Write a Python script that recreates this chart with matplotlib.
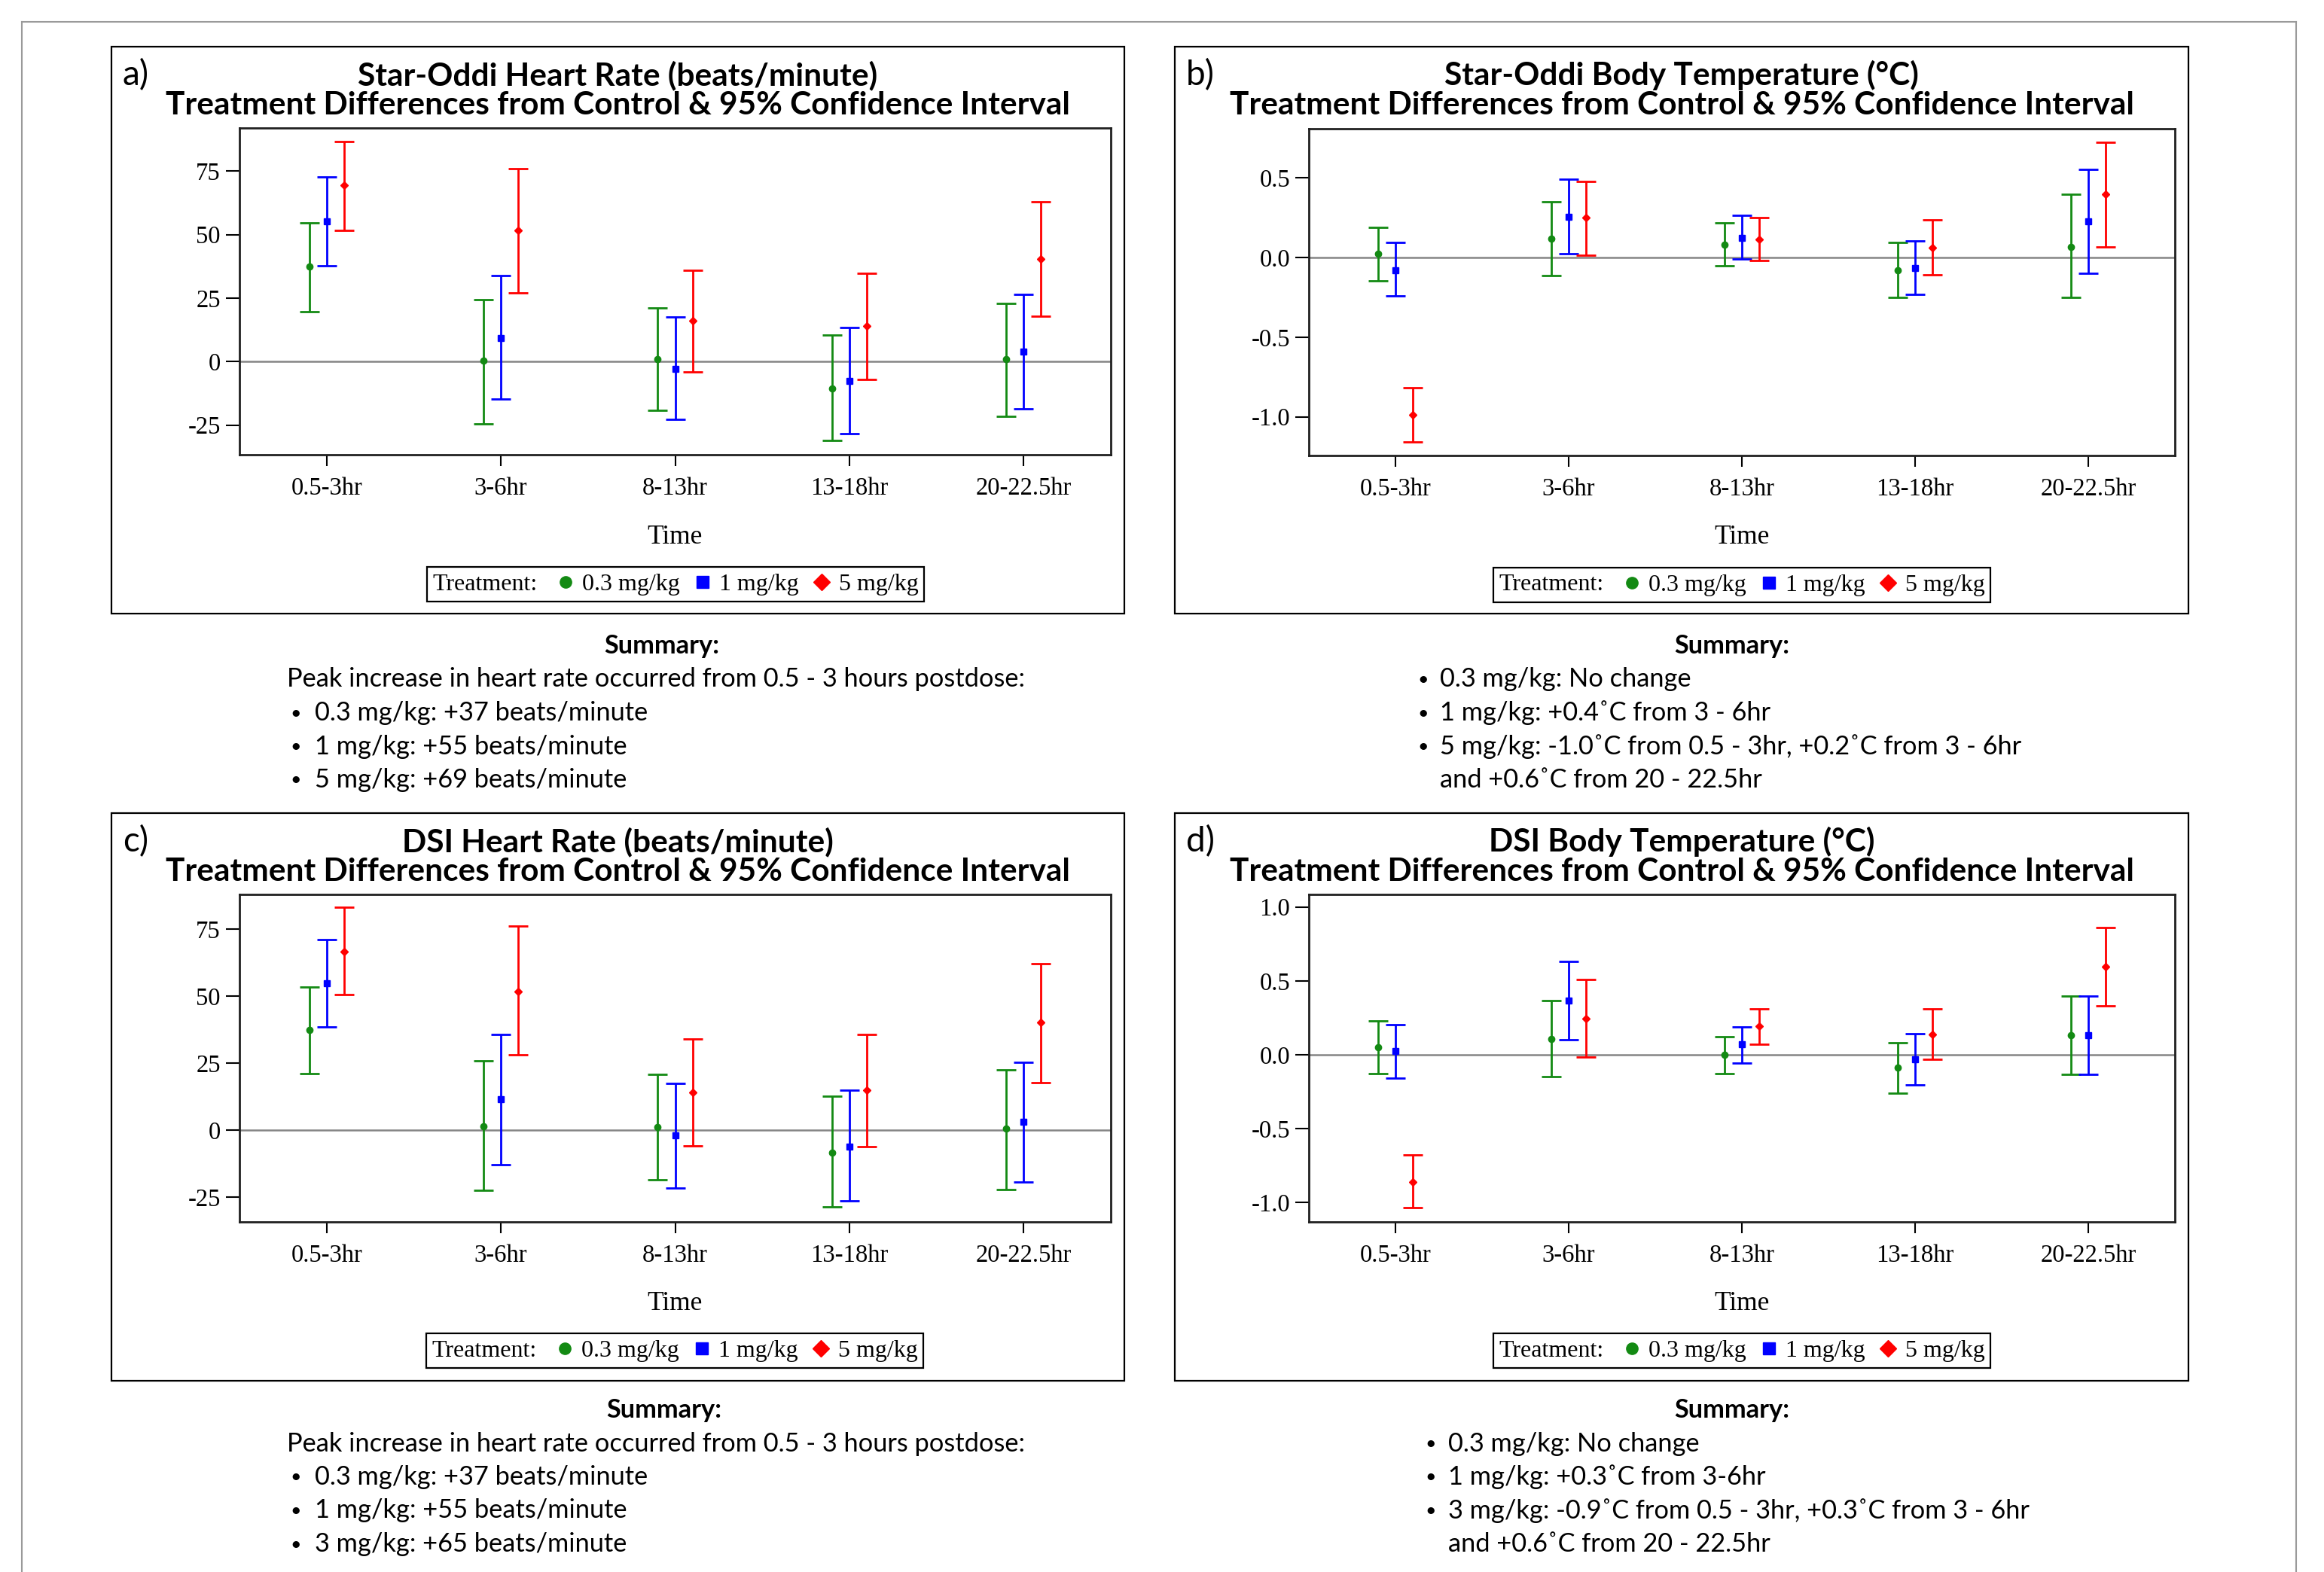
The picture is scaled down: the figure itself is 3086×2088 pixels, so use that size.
import numpy as np
import matplotlib
matplotlib.use('Agg')
import matplotlib.pyplot as plt
from matplotlib.lines import Line2D
from matplotlib.patches import Rectangle
from matplotlib.offsetbox import HPacker

plt.rcParams['axes.unicode_minus'] = False

W, H = 3086, 2088

# ---------------- data ----------------
times = ['0.5-3hr', '3-6hr', '8-13hr', '13-18hr', '20-22.5hr']
treatments = ['0.3 mg/kg', '1 mg/kg', '5 mg/kg']

# a) Star-Oddi heart rate  (rows: 0.3, 1, 5 mg/kg)
so_hr_est = [[37.3, 0.3, 0.9, -10.5, 0.9], [55.3, 9.2, -2.8, -7.7, 4.0], [69.4, 51.6, 16.0, 13.9, 40.4]]
so_hr_lo = [[19.7, -24.4, -19.2, -31.2, -21.6], [37.7, -14.9, -22.9, -28.3, -18.5], [51.6, 27.2, -4.0, -7.0, 17.9]]
so_hr_hi = [[54.6, 24.4, 21.0, 10.5, 22.9], [72.6, 33.9, 17.6, 13.3, 26.5], [86.7, 76.0, 36.1, 34.8, 63.0]]

# b) Star-Oddi body temperature
so_bt_est = [[0.026, 0.120, 0.083, -0.078, 0.068], [-0.078, 0.255, 0.125, -0.064, 0.229], [-0.988, 0.250, 0.113, 0.064, 0.399]]
so_bt_lo = [[-0.146, -0.113, -0.050, -0.250, -0.250], [-0.243, 0.024, -0.009, -0.231, -0.097], [-1.156, 0.014, -0.017, -0.108, 0.068]]
so_bt_hi = [[0.189, 0.351, 0.217, 0.094, 0.396], [0.094, 0.491, 0.264, 0.106, 0.554], [-0.818, 0.479, 0.250, 0.236, 0.722]]

# c) DSI heart rate
dsi_hr_est = [[37.4, 1.5, 1.0, -8.4, 0.7], [54.9, 11.4, -2.0, -6.2, 3.0], [66.7, 51.8, 14.1, 14.9, 40.1]]
dsi_hr_lo = [[21.0, -22.4, -18.6, -28.8, -22.1], [38.5, -12.9, -21.7, -26.4, -19.3], [50.6, 28.0, -5.8, -6.2, 17.6]]
dsi_hr_hi = [[53.4, 26.0, 20.7, 12.7, 22.5], [71.0, 35.6, 17.4, 14.9, 25.2], [83.3, 76.1, 34.0, 35.6, 62.2]]

# d) DSI body temperature
dsi_bt_est = [[0.051, 0.107, 0.0, -0.089, 0.132], [0.025, 0.367, 0.071, -0.033, 0.132], [-0.859, 0.242, 0.194, 0.140, 0.596]]
dsi_bt_lo = [[-0.127, -0.150, -0.125, -0.262, -0.130], [-0.158, 0.104, -0.054, -0.204, -0.130], [-1.032, -0.013, 0.071, -0.033, 0.331]]
dsi_bt_hi = [[0.229, 0.367, 0.120, 0.079, 0.395], [0.204, 0.632, 0.189, 0.143, 0.395], [-0.680, 0.507, 0.311, 0.311, 0.859]]

hr_ticks = [-25, 0, 25, 50, 75]
so_bt_ticks = [-1.0, -0.5, 0.0, 0.5]
dsi_bt_ticks = [-1.0, -0.5, 0.0, 0.5, 1.0]

titles1 = ['Star-Oddi Heart Rate (beats/minute)', 'Star-Oddi Body Temperature (°C)',
           'DSI Heart Rate (beats/minute)', 'DSI Body Temperature (°C)']
title2 = 'Treatment Differences from Control & 95% Confidence Interval'
letters = ['a)', 'b)', 'c)', 'd)']

sum_a_intro = 'Peak increase in heart rate occurred from 0.5 - 3 hours postdose:'
sum_a = ['0.3 mg/kg: +37 beats/minute', '1 mg/kg: +55 beats/minute', '5 mg/kg: +69 beats/minute']
sum_b = ['0.3 mg/kg: No change', '1 mg/kg: +0.4˚C from 3 - 6hr',
         '5 mg/kg: -1.0˚C from 0.5 - 3hr, +0.2˚C from 3 - 6hr']
sum_b_cont = 'and +0.6˚C from 20 - 22.5hr'
sum_c_intro = 'Peak increase in heart rate occurred from 0.5 - 3 hours postdose:'
sum_c = ['0.3 mg/kg: +37 beats/minute', '1 mg/kg: +55 beats/minute', '3 mg/kg: +65 beats/minute']
sum_d = ['0.3 mg/kg: No change', '1 mg/kg: +0.3˚C from 3-6hr',
         '3 mg/kg: -0.9˚C from 0.5 - 3hr, +0.3˚C from 3 - 6hr']
sum_d_cont = 'and +0.6˚C from 20 - 22.5hr'

colors = ['#138a13', '#0000ff', '#ff0000']
markers = ['o', 's', 'D']

# ---------------- layout helpers ----------------
def fx(x):
    return x / W

def fy(y):
    return 1 - y / H

fig = plt.figure(figsize=(W / 100, H / 100), dpi=100)

# outer frame
for (x0, y0, x1, y1) in [(29, 29, 3049, 29), (29, 29, 29, H), (3049, 29, 3049, H)]:
    fig.add_artist(Line2D([fx(x0), fx(x1)], [fy(y0), fy(y1)], color='#9a9a9a', lw=1.5))

panels = [
    dict(box=(148, 62, 1493, 815), ax=(318, 170, 1475, 604), est=so_hr_est, lo=so_hr_lo, hi=so_hr_hi,
         ylim=(-36.7, 92.0), ticks=hr_ticks, fmt='{:.0f}', leg=(897, 776), xl=713),
    dict(box=(1560, 62, 2906, 815), ax=(1738, 171, 2888, 605), est=so_bt_est, lo=so_bt_lo, hi=so_bt_hi,
         ylim=(-1.243, 0.809), ticks=so_bt_ticks, fmt='{:.1f}', leg=(2313, 777), xl=713),
    dict(box=(148, 1080, 1493, 1834), ax=(318, 1188, 1475, 1623), est=dsi_hr_est, lo=dsi_hr_lo, hi=dsi_hr_hi,
         ylim=(-34.3, 88.0), ticks=hr_ticks, fmt='{:.0f}', leg=(896, 1794), xl=1732),
    dict(box=(1560, 1080, 2906, 1834), ax=(1738, 1188, 2888, 1623), est=dsi_bt_est, lo=dsi_bt_lo, hi=dsi_bt_hi,
         ylim=(-1.131, 1.085), ticks=dsi_bt_ticks, fmt='{:.1f}', leg=(2313, 1794), xl=1732),
]

serif = 'Liberation Serif'
tick_fs = 23.5
title_texts = []
title_line2 = []

for i, p in enumerate(panels):
    bx0, by0, bx1, by1 = p['box']
    fig.add_artist(Rectangle((fx(bx0), fy(by1)), fx(bx1) - fx(bx0), fy(by0) - fy(by1),
                             fill=False, edgecolor='black', lw=1.6, transform=fig.transFigure))
    cxb = (bx0 + bx1) / 2
    t1 = fig.text(fx(cxb), fy(by0 + 38), titles1[i], ha='center', va='center',
                  fontfamily='Lato', fontweight='bold', fontsize=25)
    t2 = fig.text(fx(cxb), fy(by0 + 78), title2, ha='center', va='center',
                  fontfamily='Lato', fontweight='bold', fontsize=25)
    title_texts += [t1, t2]
    title_line2.append(t2)
    fig.text(fx(bx0 + 15), fy(by0 + 38), letters[i], ha='left', va='center',
             fontfamily='Lato', fontsize=33)

    x0, y0, x1, y1 = p['ax']
    ax = fig.add_axes([fx(x0), fy(y1), fx(x1) - fx(x0), fy(y0) - fy(y1)])
    xpos = np.arange(len(times))
    ax.axhline(0, color='#858585', lw=1.8, zorder=1)
    for k in range(3):
        est = np.array(p['est'][k])
        lo = np.array(p['lo'][k])
        hi = np.array(p['hi'][k])
        ax.errorbar(xpos + (k - 1) * 0.1, est, yerr=[est - lo, hi - est], fmt=markers[k],
                    color=colors[k], ms=6 if k == 0 else 5.5, elinewidth=2.0, capsize=9.7,
                    capthick=2.0, zorder=3)
    ax.set_xlim(-0.5, 4.5)
    ax.set_ylim(*p['ylim'])
    ax.set_xticks(xpos)
    ax.set_xticklabels(times, fontfamily=serif, fontsize=tick_fs)
    ax.set_yticks(p['ticks'])
    ax.set_yticklabels([p['fmt'].format(v) for v in p['ticks']], fontfamily=serif, fontsize=tick_fs)
    ax.tick_params(axis='x', direction='out', length=11, width=1.5, pad=10)
    ax.tick_params(axis='y', direction='out', length=13, width=1.5, pad=5)
    for s in ax.spines.values():
        s.set_linewidth(2.0)
        s.set_color('#202020')
    ax.set_xlabel('Time', fontfamily=serif, fontsize=25.5)
    ax.xaxis.label.set_va('center')
    ax.xaxis.set_label_coords(0.5, -(p['xl'] - y1) / (y1 - y0))

    handles = [Line2D([], [], ls='none', marker=markers[k], color=colors[k],
                      ms=11 if k < 2 else 11.5) for k in range(3)]
    leg = ax.legend(handles, treatments, ncol=3, title='Treatment:', loc='center',
                    bbox_to_anchor=(fx(p['leg'][0]), fy(p['leg'][1])), bbox_transform=fig.transFigure,
                    prop={'family': serif, 'size': 23}, title_fontproperties={'family': serif, 'size': 23},
                    frameon=True, fancybox=False, edgecolor='black', framealpha=1,
                    borderpad=0.25, handlelength=0.7, handletextpad=0.35, columnspacing=0.6)
    leg.get_frame().set_linewidth(1.6)
    box = leg._legend_box
    title_box, handle_box = box.get_children()
    fs = leg._fontsize
    hp = HPacker(pad=leg.borderpad * fs, sep=0.8 * fs, align='center', children=[title_box, handle_box])
    hp.set_figure(fig)
    hp.axes = ax
    hp.set_offset(leg._findoffset)
    leg._legend_box = hp

# ---------------- summaries ----------------
sum_font = 'Lato'
lh = 44.5
bullet_texts = []

def summary(cx, top, intro, bullets, cont, bx, tx, introx):
    ts = []
    ts.append(fig.text(fx(cx), fy(top), 'Summary:', ha='center', va='center',
                       fontfamily=sum_font, fontweight='bold', fontsize=23))
    y = top + lh
    if intro is not None:
        ts.append(fig.text(fx(introx), fy(y), intro, ha='left', va='center', fontfamily=sum_font, fontsize=23))
        y += lh
    for b in bullets:
        bullet_texts.append(fig.text(fx(bx), fy(y), '•', ha='left', va='center',
                                     fontfamily=sum_font, fontsize=18))
        ts.append(fig.text(fx(tx), fy(y), b, ha='left', va='center', fontfamily=sum_font, fontsize=23))
        y += lh
    if cont is not None:
        ts.append(fig.text(fx(tx), fy(y), cont, ha='left', va='center', fontfamily=sum_font, fontsize=23))
    return ts

sa = summary(879, 858, sum_a_intro, sum_a, None, 385, 418, 381)
sb = summary(2300, 858, None, sum_b, sum_b_cont, 1882, 1912, None)
sc = summary(882, 1873, sum_c_intro, sum_c, None, 385, 418, 381)
sd = summary(2300, 1873, None, sum_d, sum_d_cont, 1892, 1923, None)
sum_texts = sa + sb + sc + sd

# fit font sizes to measured widths
fig.canvas.draw()
r = fig.canvas.get_renderer()
w2 = title_line2[0].get_window_extent(r).width
tfs = 25 * 1200.0 / w2
for t in title_texts:
    t.set_fontsize(tfs)
wi = sa[1].get_window_extent(r).width
sfs = 23 * 984.0 / wi
for t in sum_texts:
    t.set_fontsize(sfs)

fig.savefig('out.png', dpi=100, facecolor='white')
